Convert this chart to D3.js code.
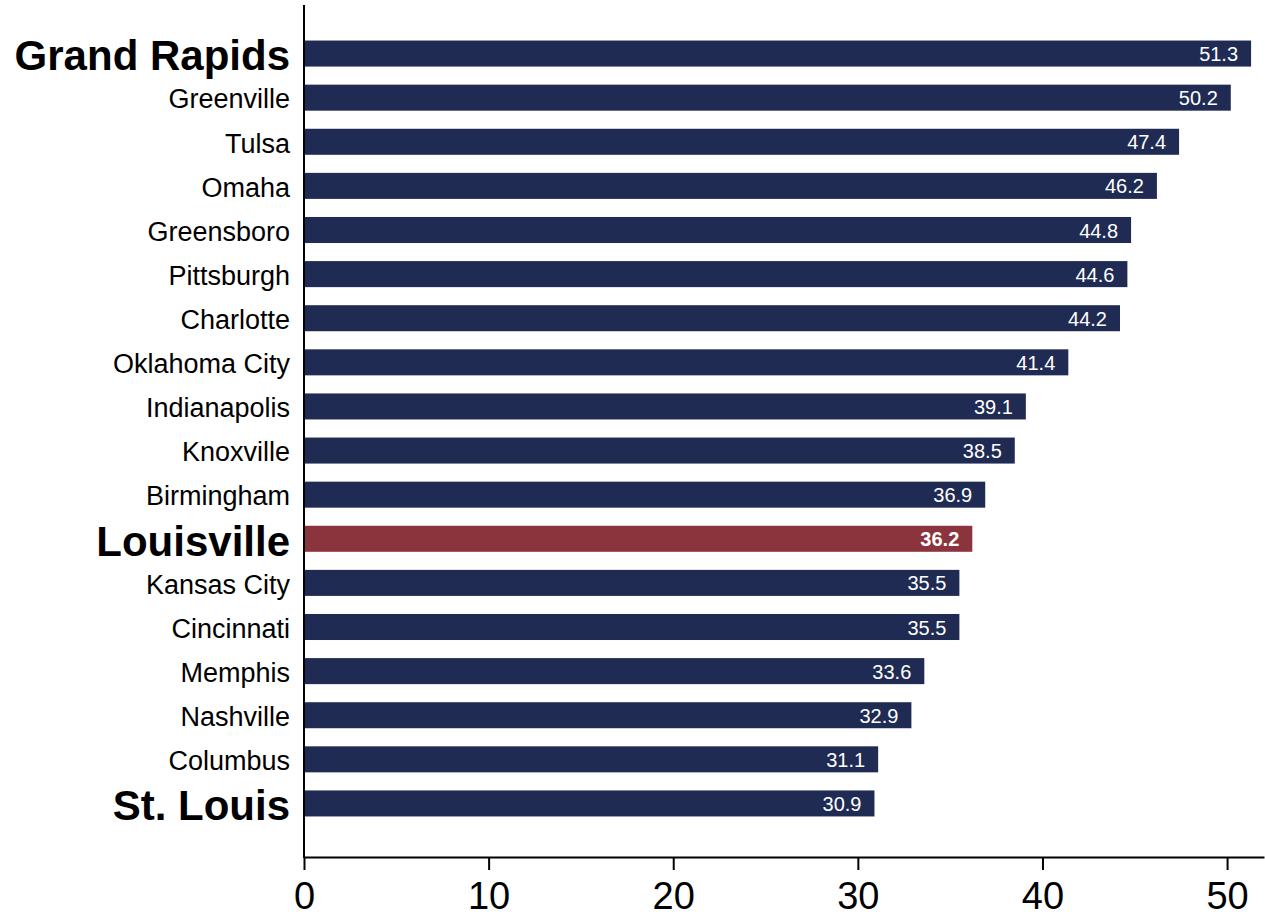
<!DOCTYPE html>
<html>
<head>
<meta charset="utf-8">
<script src="https://cdn.jsdelivr.net/npm/d3@7"></script>
<style>
  body { margin: 0; background: #fff; }
  svg { display: block; font-family: "Liberation Sans", Arial, sans-serif; }
</style>
</head>
<body>
<div class="chart"></div>
<script>
// data
var cities = ["Grand Rapids", "Greenville", "Tulsa", "Omaha", "Greensboro", "Pittsburgh",
  "Charlotte", "Oklahoma City", "Indianapolis", "Knoxville", "Birmingham", "Louisville",
  "Kansas City", "Cincinnati", "Memphis", "Nashville", "Columbus", "St. Louis"];
var values = [51.3, 50.2, 47.4, 46.2, 44.8, 44.6, 44.2, 41.4, 39.1, 38.5, 36.9, 36.2,
  35.5, 35.5, 33.6, 32.9, 31.1, 30.9];
var boldCities = ["Grand Rapids", "Louisville", "St. Louis"];
var highlight = "Louisville";
var xTicks = [0, 10, 20, 30, 40, 50];

var data = cities.map(function(c, i) { return {city: c, value: values[i]}; });

var svgWidth = 1265,
    svgHeight = 919,
    margin = {top: 5, right: 1, bottom: 62, left: 304},
    width = svgWidth - margin.left - margin.right,
    height = svgHeight - margin.top - margin.bottom;

var svg = d3.select(".chart")
    .append("svg")
    .attr("width", svgWidth)
    .attr("height", svgHeight)
    .append("g")
    .attr("transform", "translate(" + margin.left + "," + margin.top + ")");

var x = d3.scaleLinear().domain([0, 52]).range([0, width]);

var y = d3.scaleBand()
    .domain(cities)
    .range([26.5, 820.5])
    .paddingInner(0.41)
    .paddingOuter(0.205);

// bars
svg.selectAll(".bar")
    .data(data)
    .enter().append("rect")
    .attr("class", "bar")
    .attr("x", x(0))
    .attr("y", function(d) { return y(d.city); })
    .attr("width", function(d) { return x(d.value) - x(0); })
    .attr("height", y.bandwidth())
    .attr("fill", function(d) { return d.city === highlight ? "#8b343d" : "#1f2b53"; });

// value labels inside bars
svg.selectAll(".val")
    .data(data)
    .enter().append("text")
    .attr("class", "val")
    .attr("x", function(d) { return x(d.value) - 13; })
    .attr("y", function(d) { return y(d.city) + y.bandwidth() / 2; })
    .attr("dy", "0.38em")
    .attr("text-anchor", "end")
    .attr("fill", "#fff")
    .style("font-size", "20px")
    .style("font-weight", function(d) { return d.city === highlight ? "bold" : "normal"; })
    .text(function(d) { return d.value.toFixed(1); });

// category labels
svg.selectAll(".cat")
    .data(data)
    .enter().append("text")
    .attr("class", "cat")
    .attr("x", -14)
    .attr("y", function(d) { return y(d.city) + y.bandwidth() / 2; })
    .attr("dy", "0.4em")
    .attr("text-anchor", "end")
    .attr("fill", "#000")
    .style("font-size", function(d) { return boldCities.indexOf(d.city) >= 0 ? "42px" : "27px"; })
    .style("font-weight", function(d) { return boldCities.indexOf(d.city) >= 0 ? "bold" : "normal"; })
    .text(function(d) { return d.city; });

// y axis line
svg.append("line")
    .attr("x1", 0).attr("x2", 0)
    .attr("y1", 0).attr("y2", height + 1)
    .attr("stroke", "#000")
    .attr("stroke-width", 2);

// x axis
var xAxis = d3.axisBottom(x)
    .tickValues(xTicks)
    .tickSize(13)
    .tickSizeOuter(0)
    .tickPadding(12);

var gx = svg.append("g")
    .attr("transform", "translate(0," + height + ")")
    .call(xAxis);

gx.select(".domain").attr("stroke-width", 2);
gx.selectAll(".tick line").attr("stroke-width", 2);
gx.selectAll(".tick text")
    .style("font-size", "38px")
    .style("font-family", "'Liberation Sans', Arial, sans-serif")
    .attr("fill", "#000");
</script>
</body>
</html>
